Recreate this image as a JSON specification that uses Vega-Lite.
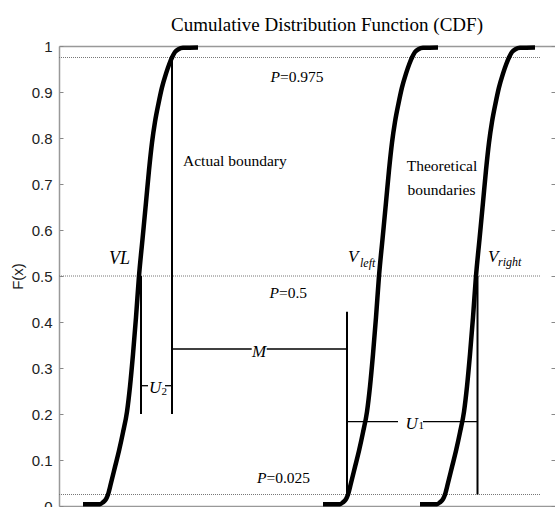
{
  "$schema": "https://vega.github.io/schema/vega-lite/v6.json",
  "width": 496,
  "height": 460,
  "autosize": {"type": "none"},
  "padding": {"left": 59, "top": 46, "right": 0, "bottom": 1},
  "background": "white",
  "title": {
    "text": "Cumulative Distribution Function (CDF)",
    "font": "'Liberation Serif', 'Times New Roman', Times, serif",
    "fontSize": 19,
    "fontWeight": "normal",
    "color": "black",
    "anchor": "middle",
    "dx": 20,
    "dy": 27,
    "baseline": "alphabetic",
    "offset": 15
  },
  "config": {"view": {"stroke": null}, "axis": {"grid": false}, "title": {"font": "'Liberation Serif', 'Times New Roman', Times, serif", "fontWeight": "normal"},
             "text": {"font": "'Liberation Serif', 'Times New Roman', Times, serif"}},
  "resolve": {"axis": {"x": "independent", "y": "independent"}},
  "layer": [
    {
      "data": {"values": [
        {"p": 0.975, "x": 0, "x2": 482},
        {"p": 0.5, "x": 0, "x2": 482},
        {"p": 0.025, "x": 0, "x2": 482}
      ]},
      "mark": {"type": "rule", "color": "#777", "strokeWidth": 1, "strokeDash": [1, 1]},
      "encoding": {
        "x": {"field": "x", "type": "quantitative", "scale": {"domain": [0, 496], "nice": false, "zero": false},
              "axis": {"orient": "top", "labels": false, "ticks": false, "domainColor": "#999", "domainWidth": 1.5, "title": null}},
        "x2": {"field": "x2"},
        "y": {"field": "p", "type": "quantitative", "scale": {"domain": [0, 1], "nice": false, "zero": false},
              "axis": {"orient": "right", "labels": false, "domain": false, "tickSize": -4, "tickColor": "#888", "values": [0, 0.1, 0.2, 0.3, 0.4, 0.5, 0.6, 0.7, 0.8, 0.9, 1], "title": null}}
      }
    },
    {
      "data": {"values": [
        {"curve": "VL", "x": 24, "F": 0.004}, {"curve": "VL", "x": 41, "F": 0.004}, {"curve": "VL", "x": 44, "F": 0.008},
        {"curve": "VL", "x": 47, "F": 0.015}, {"curve": "VL", "x": 49, "F": 0.025}, {"curve": "VL", "x": 52, "F": 0.05},
        {"curve": "VL", "x": 56, "F": 0.085}, {"curve": "VL", "x": 60, "F": 0.12}, {"curve": "VL", "x": 64, "F": 0.16},
        {"curve": "VL", "x": 68, "F": 0.205}, {"curve": "VL", "x": 71, "F": 0.26}, {"curve": "VL", "x": 74, "F": 0.33},
        {"curve": "VL", "x": 77, "F": 0.41}, {"curve": "VL", "x": 80, "F": 0.5}, {"curve": "VL", "x": 83.5, "F": 0.58},
        {"curve": "VL", "x": 87, "F": 0.66}, {"curve": "VL", "x": 90, "F": 0.73}, {"curve": "VL", "x": 93, "F": 0.79},
        {"curve": "VL", "x": 96, "F": 0.835}, {"curve": "VL", "x": 99.5, "F": 0.875}, {"curve": "VL", "x": 103, "F": 0.91},
        {"curve": "VL", "x": 107, "F": 0.94}, {"curve": "VL", "x": 110.5, "F": 0.962}, {"curve": "VL", "x": 113, "F": 0.975},
        {"curve": "VL", "x": 116, "F": 0.987}, {"curve": "VL", "x": 119.5, "F": 0.993}, {"curve": "VL", "x": 124, "F": 0.996},
        {"curve": "VL", "x": 139, "F": 0.997},
        {"curve": "Vleft", "x": 264, "F": 0.004}, {"curve": "Vleft", "x": 281, "F": 0.004}, {"curve": "Vleft", "x": 284, "F": 0.008},
        {"curve": "Vleft", "x": 287, "F": 0.015}, {"curve": "Vleft", "x": 289, "F": 0.025}, {"curve": "Vleft", "x": 292, "F": 0.05},
        {"curve": "Vleft", "x": 296, "F": 0.085}, {"curve": "Vleft", "x": 300, "F": 0.12}, {"curve": "Vleft", "x": 304, "F": 0.16},
        {"curve": "Vleft", "x": 308, "F": 0.205}, {"curve": "Vleft", "x": 311, "F": 0.26}, {"curve": "Vleft", "x": 314, "F": 0.33},
        {"curve": "Vleft", "x": 317, "F": 0.41}, {"curve": "Vleft", "x": 320, "F": 0.5}, {"curve": "Vleft", "x": 323.5, "F": 0.58},
        {"curve": "Vleft", "x": 327, "F": 0.66}, {"curve": "Vleft", "x": 330, "F": 0.73}, {"curve": "Vleft", "x": 333, "F": 0.79},
        {"curve": "Vleft", "x": 336, "F": 0.835}, {"curve": "Vleft", "x": 339.5, "F": 0.875}, {"curve": "Vleft", "x": 343, "F": 0.91},
        {"curve": "Vleft", "x": 347, "F": 0.94}, {"curve": "Vleft", "x": 350.5, "F": 0.962}, {"curve": "Vleft", "x": 353, "F": 0.975},
        {"curve": "Vleft", "x": 356, "F": 0.987}, {"curve": "Vleft", "x": 359.5, "F": 0.993}, {"curve": "Vleft", "x": 364, "F": 0.996},
        {"curve": "Vleft", "x": 379, "F": 0.997},
        {"curve": "Vright", "x": 361, "F": 0.004}, {"curve": "Vright", "x": 378, "F": 0.004}, {"curve": "Vright", "x": 381, "F": 0.008},
        {"curve": "Vright", "x": 384, "F": 0.015}, {"curve": "Vright", "x": 386, "F": 0.025}, {"curve": "Vright", "x": 389, "F": 0.05},
        {"curve": "Vright", "x": 393, "F": 0.085}, {"curve": "Vright", "x": 397, "F": 0.12}, {"curve": "Vright", "x": 401, "F": 0.16},
        {"curve": "Vright", "x": 405, "F": 0.205}, {"curve": "Vright", "x": 408, "F": 0.26}, {"curve": "Vright", "x": 411, "F": 0.33},
        {"curve": "Vright", "x": 414, "F": 0.41}, {"curve": "Vright", "x": 417, "F": 0.5}, {"curve": "Vright", "x": 420.5, "F": 0.58},
        {"curve": "Vright", "x": 424, "F": 0.66}, {"curve": "Vright", "x": 427, "F": 0.73}, {"curve": "Vright", "x": 430, "F": 0.79},
        {"curve": "Vright", "x": 433, "F": 0.835}, {"curve": "Vright", "x": 436.5, "F": 0.875}, {"curve": "Vright", "x": 440, "F": 0.91},
        {"curve": "Vright", "x": 444, "F": 0.94}, {"curve": "Vright", "x": 447.5, "F": 0.962}, {"curve": "Vright", "x": 450, "F": 0.975},
        {"curve": "Vright", "x": 453, "F": 0.987}, {"curve": "Vright", "x": 456.5, "F": 0.993}, {"curve": "Vright", "x": 461, "F": 0.996},
        {"curve": "Vright", "x": 476, "F": 0.997}
      ]},
      "mark": {"type": "line", "color": "black", "strokeWidth": 4.5, "interpolate": "monotone"},
      "encoding": {
        "x": {"field": "x", "type": "quantitative", "scale": {"domain": [0, 496], "nice": false, "zero": false},
              "axis": {"orient": "bottom", "labels": false, "ticks": false, "domainColor": "#999", "domainWidth": 1.5, "title": null}},
        "y": {"field": "F", "type": "quantitative", "scale": {"domain": [0, 1], "nice": false, "zero": false},
              "axis": {"orient": "left", "values": [0, 0.1, 0.2, 0.3, 0.4, 0.5, 0.6, 0.7, 0.8, 0.9, 1], "format": "~g",
                       "labelFont": "Liberation Sans", "labelFontSize": 15, "labelColor": "#222", "labelPadding": 11,
                       "tickSize": -4, "tickColor": "#888", "domainColor": "#999", "domainWidth": 1.5,
                       "title": "F(x)", "titleFont": "Liberation Sans", "titleFontSize": 15, "titleFontWeight": "normal",
                       "titleColor": "#222", "titlePadding": 6}},
        "detail": {"field": "curve", "type": "nominal"}
      }
    },
    {
      "data": {"values": [
        {"x": 82, "x2": 82, "y": 0.5, "y2": 0.2},
        {"x": 113, "x2": 113, "y": 0.975, "y2": 0.2},
        {"x": 288, "x2": 288, "y": 0.4224, "y2": 0.025},
        {"x": 418.5, "x2": 418.5, "y": 0.5, "y2": 0.025}
      ]},
      "mark": {"type": "rule", "color": "black", "strokeWidth": 2},
      "encoding": {
        "x": {"field": "x", "type": "quantitative", "scale": {"domain": [0, 496], "nice": false, "zero": false}, "axis": null},
        "x2": {"field": "x2"},
        "y": {"field": "y", "type": "quantitative", "scale": {"domain": [0, 1], "nice": false, "zero": false}, "axis": null},
        "y2": {"field": "y2"}
      }
    },
    {
      "data": {"values": [
        {"x": 82, "x2": 89, "y": 0.2615, "y2": 0.2615},
        {"x": 106, "x2": 113, "y": 0.2615, "y2": 0.2615},
        {"x": 113, "x2": 192.7, "y": 0.3413, "y2": 0.3413},
        {"x": 207.7, "x2": 288, "y": 0.3413, "y2": 0.3413},
        {"x": 288, "x2": 339, "y": 0.1833, "y2": 0.1833},
        {"x": 364, "x2": 418.5, "y": 0.1833, "y2": 0.1833}
      ]},
      "mark": {"type": "rule", "color": "black", "strokeWidth": 1.3},
      "encoding": {
        "x": {"field": "x", "type": "quantitative", "scale": {"domain": [0, 496], "nice": false, "zero": false}, "axis": null},
        "x2": {"field": "x2"},
        "y": {"field": "y", "type": "quantitative", "scale": {"domain": [0, 1], "nice": false, "zero": false}, "axis": null},
        "y2": {"field": "y2"}
      }
    },
    {
      "data": {"values": [
        {"t": "V", "x": 289, "y": 0.531},
        {"t": "V", "x": 429, "y": 0.531},
        {"t": "U", "x": 90, "y": 0.2457},
        {"t": "U", "x": 346.5, "y": 0.1674}
      ]},
      "mark": {"type": "text", "fontStyle": "italic", "fontSize": 17, "align": "left", "baseline": "alphabetic", "color": "black"},
      "encoding": {
        "x": {"field": "x", "type": "quantitative", "scale": {"domain": [0, 496], "nice": false, "zero": false}, "axis": null},
        "y": {"field": "y", "type": "quantitative", "scale": {"domain": [0, 1], "nice": false, "zero": false}, "axis": null},
        "text": {"field": "t"}
      }
    },
    {
      "data": {"values": [
        {"t": "VL", "x": 71, "y": 0.5254}
      ]},
      "mark": {"type": "text", "fontStyle": "italic", "fontSize": 18, "align": "right", "baseline": "alphabetic", "color": "black"},
      "encoding": {
        "x": {"field": "x", "type": "quantitative", "scale": {"domain": [0, 496], "nice": false, "zero": false}, "axis": null},
        "y": {"field": "y", "type": "quantitative", "scale": {"domain": [0, 1], "nice": false, "zero": false}, "axis": null},
        "text": {"field": "t"}
      }
    },
    {
      "data": {"values": [
        {"t": "M", "x": 200.2, "y": 0.3239}
      ]},
      "mark": {"type": "text", "fontStyle": "italic", "fontSize": 17, "align": "center", "baseline": "alphabetic", "color": "black"},
      "encoding": {
        "x": {"field": "x", "type": "quantitative", "scale": {"domain": [0, 496], "nice": false, "zero": false}, "axis": null},
        "y": {"field": "y", "type": "quantitative", "scale": {"domain": [0, 1], "nice": false, "zero": false}, "axis": null},
        "text": {"field": "t"}
      }
    },
    {
      "data": {"values": [
        {"t": "P", "x": 221, "y": 0.9217},
        {"t": "P", "x": 220, "y": 0.4522},
        {"t": "P", "x": 207.5, "y": 0.05}
      ]},
      "mark": {"type": "text", "fontStyle": "italic", "fontSize": 15.5, "align": "right", "baseline": "alphabetic", "color": "black"},
      "encoding": {
        "x": {"field": "x", "type": "quantitative", "scale": {"domain": [0, 496], "nice": false, "zero": false}, "axis": null},
        "y": {"field": "y", "type": "quantitative", "scale": {"domain": [0, 1], "nice": false, "zero": false}, "axis": null},
        "text": {"field": "t"}
      }
    },
    {
      "data": {"values": [
        {"t": "=0.975", "x": 221, "y": 0.9217},
        {"t": "=0.5", "x": 220, "y": 0.4522},
        {"t": "=0.025", "x": 207.5, "y": 0.05},
        {"t": "Actual boundary", "x": 124, "y": 0.7402}
      ]},
      "mark": {"type": "text", "fontSize": 15.5, "align": "left", "baseline": "alphabetic", "color": "black"},
      "encoding": {
        "x": {"field": "x", "type": "quantitative", "scale": {"domain": [0, 496], "nice": false, "zero": false}, "axis": null},
        "y": {"field": "y", "type": "quantitative", "scale": {"domain": [0, 1], "nice": false, "zero": false}, "axis": null},
        "text": {"field": "t"}
      }
    },
    {
      "data": {"values": [
        {"t": "Theoretical", "x": 383, "y": 0.729},
        {"t": "boundaries", "x": 382.5, "y": 0.676}
      ]},
      "mark": {"type": "text", "fontSize": 15.5, "align": "center", "baseline": "alphabetic", "color": "black"},
      "encoding": {
        "x": {"field": "x", "type": "quantitative", "scale": {"domain": [0, 496], "nice": false, "zero": false}, "axis": null},
        "y": {"field": "y", "type": "quantitative", "scale": {"domain": [0, 1], "nice": false, "zero": false}, "axis": null},
        "text": {"field": "t"}
      }
    },
    {
      "data": {"values": [
        {"t": "left", "x": 301, "y": 0.52},
        {"t": "right", "x": 439, "y": 0.5217}
      ]},
      "mark": {"type": "text", "fontStyle": "italic", "fontSize": 12, "align": "left", "baseline": "alphabetic", "color": "black"},
      "encoding": {
        "x": {"field": "x", "type": "quantitative", "scale": {"domain": [0, 496], "nice": false, "zero": false}, "axis": null},
        "y": {"field": "y", "type": "quantitative", "scale": {"domain": [0, 1], "nice": false, "zero": false}, "axis": null},
        "text": {"field": "t"}
      }
    },
    {
      "data": {"values": [
        {"t": "2", "x": 102.5, "y": 0.241},
        {"t": "1", "x": 359.5, "y": 0.1674}
      ]},
      "mark": {"type": "text", "fontSize": 11, "align": "left", "baseline": "alphabetic", "color": "black"},
      "encoding": {
        "x": {"field": "x", "type": "quantitative", "scale": {"domain": [0, 496], "nice": false, "zero": false}, "axis": null},
        "y": {"field": "y", "type": "quantitative", "scale": {"domain": [0, 1], "nice": false, "zero": false}, "axis": null},
        "text": {"field": "t"}
      }
    }
  ]
}
